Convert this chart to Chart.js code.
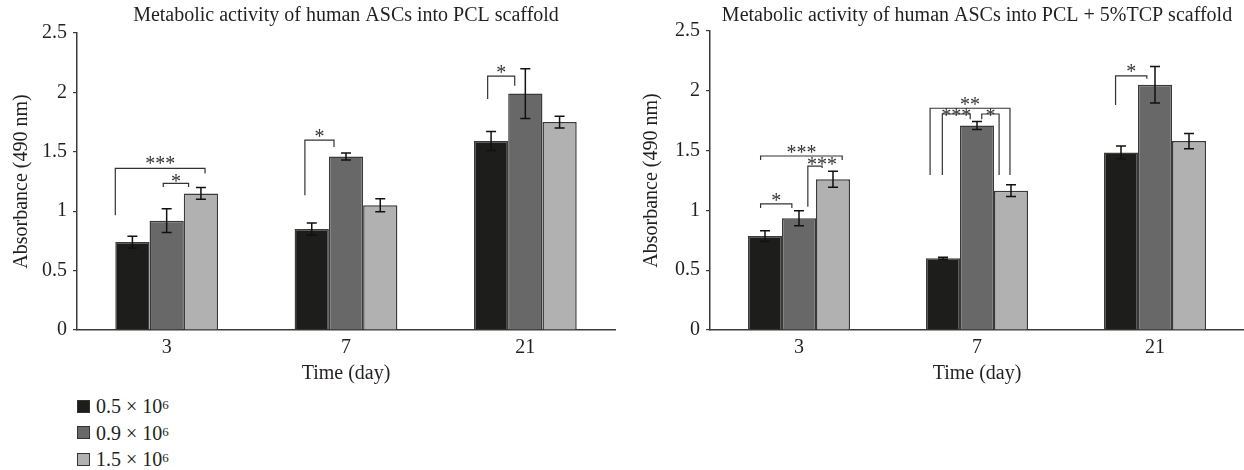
<!DOCTYPE html>
<html>
<head>
<meta charset="utf-8">
<script src="https://cdn.jsdelivr.net/npm/chart.js@4"></script>
<style>
  body { margin: 0; background: #fff; width: 1244px; height: 470px; position: relative; overflow: hidden; }
  canvas { position: absolute; top: 0; }
  #left { left: 0; }
  #right { left: 632px; }
  #legend { position: absolute; left: 77px; top: 393px; font: 20px "Liberation Serif", serif; color: #231f20; line-height: 26.5px; }
  #legend .row { display: flex; align-items: center; }
  #legend .sw { width: 11px; height: 11px; border: 1.5px solid #333; margin-right: 6px; }
  #legend sup { font-size: 13px; line-height: 0; position: relative; top: -1px; }
</style>
</head>
<body>
<canvas id="left" width="622" height="390"></canvas>
<canvas id="right" width="612" height="390"></canvas>
<div id="legend"></div>
<script>
// categories and series
const days = ["3", "7", "21"];
const densities = ["0.5", "0.9", "1.5"];
const colors = ["#1d1d1b", "#686868", "#b1b1b1"];
const yTickValues = [0, 0.5, 1, 1.5, 2, 2.5];

// PCL scaffold: mean per density, then SD
const pcl = [
  [0.74, 0.85, 1.59],
  [0.92, 1.46, 1.99],
  [1.15, 1.05, 1.75]
];
const pclErr = [
  [0.05, 0.05, 0.08],
  [0.10, 0.03, 0.21],
  [0.05, 0.055, 0.05]
];

// PCL + 5%TCP scaffold
const tcp = [
  [0.785, 0.60, 1.485],
  [0.935, 1.71, 2.05],
  [1.26, 1.165, 1.58]
];
const tcpErr = [
  [0.045, 0.008, 0.053],
  [0.063, 0.033, 0.153],
  [0.067, 0.049, 0.064]
];

// significance brackets: day index, leg offsets (in bar widths from group centre),
// top level, leg bottoms, label level (all in absorbance units)
const pclBrackets = [
  { cat: 0, x1: -1.5, x2: 1.12, top: 1.36, b1: 0.965, b2: 1.317, text: "***", at: 1.43 },
  { cat: 0, x1: -0.1, x2: 0.64, top: 1.235, b1: 1.204, b2: 1.204, text: "*", at: 1.28 },
  { cat: 1, x1: -1.2, x2: -0.35, top: 1.598, b1: 1.134, b2: 1.541, text: "*", at: 1.66 },
  { cat: 2, x1: -1.1, x2: -0.31, top: 2.137, b1: 1.944, b2: 2.056, text: "*", at: 2.2 }
];
const tcpBrackets = [
  { cat: 0, x1: -1.13, x2: 1.27, top: 1.455, b1: 1.421, b2: 1.421, text: "***", at: 1.513 },
  { cat: 0, x1: 0.26, x2: 0.68, top: 1.371, b1: 1.031, b2: 1.355, text: "***", at: 1.413, tx: 0.68 },
  { cat: 0, x1: -1.13, x2: -0.21, top: 1.054, b1: 1.02, b2: 1.02, text: "*", at: 1.115 },
  { cat: 1, x1: -1.38, x2: 0.97, top: 1.854, b1: 1.296, b2: 1.296, text: "**", at: 1.917 },
  { cat: 1, x1: -1.02, x2: -0.2, top: 1.806, b1: 1.296, b2: 1.762, text: "***", at: 1.825 },
  { cat: 1, x1: 0.14, x2: 0.65, top: 1.806, b1: 1.762, b2: 1.296, text: "*", at: 1.825 },
  { cat: 2, x1: -1.16, x2: -0.24, top: 2.124, b1: 1.881, b2: 2.10, text: "*", at: 2.19 }
];

Chart.defaults.font.family = "'Liberation Serif', serif";
Chart.defaults.font.size = 20;
Chart.defaults.color = "#231f20";

const errorBars = {
  id: "errorBars",
  afterDatasetsDraw(chart, args, opts) {
    const ctx = chart.ctx;
    const y = chart.scales.y;
    ctx.save();
    ctx.strokeStyle = "#111";
    ctx.lineWidth = 1.5;
    chart.data.datasets.forEach((ds, i) => {
      chart.getDatasetMeta(i).data.forEach((bar, j) => {
        const v = ds.data[j], e = opts.errors[i][j];
        const yt = y.getPixelForValue(v + e), yb = y.getPixelForValue(v - e);
        ctx.beginPath();
        ctx.moveTo(bar.x, yt); ctx.lineTo(bar.x, yb);
        ctx.moveTo(bar.x - 5, yt); ctx.lineTo(bar.x + 5, yt);
        ctx.moveTo(bar.x - 5, yb); ctx.lineTo(bar.x + 5, yb);
        ctx.stroke();
      });
    });
    ctx.restore();
  }
};

const brackets = {
  id: "brackets",
  afterDatasetsDraw(chart, args, opts) {
    const ctx = chart.ctx;
    const x = chart.scales.x, y = chart.scales.y;
    const bw = chart.getDatasetMeta(0).data[0].width;
    ctx.save();
    ctx.strokeStyle = "#333";
    ctx.lineWidth = 1.2;
    ctx.fillStyle = "#333";
    ctx.font = "20px 'Liberation Serif', serif";
    ctx.textAlign = "center";
    ctx.textBaseline = "alphabetic";
    opts.items.forEach(b => {
      const c = x.getPixelForValue(b.cat);
      const x1 = c + b.x1 * bw, x2 = c + b.x2 * bw;
      const top = y.getPixelForValue(b.top);
      ctx.beginPath();
      ctx.moveTo(x1, y.getPixelForValue(b.b1));
      ctx.lineTo(x1, top);
      ctx.lineTo(x2, top);
      ctx.lineTo(x2, y.getPixelForValue(b.b2));
      ctx.stroke();
      const tx = b.tx !== undefined ? c + b.tx * bw : (x1 + x2) / 2;
      ctx.fillText(b.text, tx, y.getPixelForValue(b.at) + 10);
    });
    ctx.restore();
  }
};

function makeChart(id, title, values, errs, items, axisWidth, padRight, titleBottom, yTitlePad) {
  return new Chart(document.getElementById(id), {
    type: "bar",
    data: {
      labels: days,
      datasets: values.map((v, i) => ({
        label: densities[i] + " × 10⁶",
        data: v,
        backgroundColor: colors[i],
        borderColor: "#3a3a3a",
        borderWidth: 1.5,
        barPercentage: 1,
        categoryPercentage: 0.573
      }))
    },
    plugins: [errorBars, brackets],
    options: {
      responsive: false,
      animation: false,
      layout: { padding: { left: 0, right: padRight, top: 0, bottom: 0 } },
      plugins: {
        legend: { display: false },
        tooltip: { enabled: false },
        title: {
          display: true,
          text: title,
          fullSize: false,
          color: "#231f20",
          font: { size: 20, weight: "normal" },
          padding: { top: 4, bottom: titleBottom }
        },
        errorBars: { errors: errs },
        brackets: { items: items }
      },
      scales: {
        x: {
          grid: { display: false, drawTicks: false, tickLength: 0 },
          border: { display: true, color: "#3a3a3a", width: 1.5 },
          ticks: { padding: 6, color: "#231f20" },
          title: { display: true, text: "Time (day)", color: "#231f20", padding: { top: -4, bottom: 4 } }
        },
        y: {
          min: 0,
          max: 2.5,
          afterBuildTicks: s => { s.ticks = yTickValues.map(v => ({ value: v })); },
          afterFit: s => { s.width = axisWidth; },
          grid: { drawOnChartArea: false, tickLength: 4, color: "#3a3a3a", lineWidth: 1.2 },
          border: { display: true, color: "#3a3a3a", width: 1.5 },
          ticks: { padding: 6, color: "#231f20", callback: v => String(v) },
          title: { display: true, text: "Absorbance (490 nm)", color: "#231f20", padding: { top: yTitlePad, bottom: 0 } }
        }
      }
    }
  });
}

makeChart("left", "Metabolic activity of human ASCs into PCL scaffold", pcl, pclErr, pclBrackets, 77, 7, 5, 10);
makeChart("right", "Metabolic activity of human ASCs into PCL + 5%TCP scaffold", tcp, tcpErr, tcpBrackets, 78, 0, 3, 8);

document.getElementById("legend").innerHTML = densities.map((d, i) =>
  `<div class="row"><span class="sw" style="background:${colors[i]}"></span>${d} × 10<sup>6</sup></div>`
).join("");
</script>
</body>
</html>
